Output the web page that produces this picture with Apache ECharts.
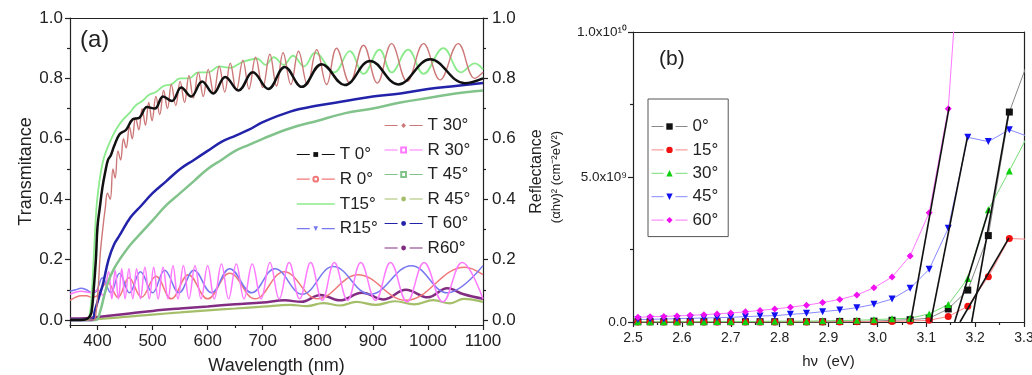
<!DOCTYPE html>
<html><head><meta charset="utf-8">
<script src="https://cdn.jsdelivr.net/npm/echarts/dist/echarts.min.js"></script>
<style>html,body{margin:0;padding:0;background:#fff}#c{width:1032px;height:375px}</style>
</head><body><div id="c"></div>
<script>
// ---------- Panel (a): wavelength (nm) / value pairs ----------
const wlT0 = [350,370,380,385,389,393,397,400,404,409,414,419,424,430,440,452,464,476,490,504,519,535,552,570,590,610,632,656,682,710,740,771,807,849,895,946,1004,1067,1100];
const T0   = [0,0,0.003,0.01,0.025,0.1,0.2,0.31,0.37,0.44,0.49,0.53,0.545,0.575,0.615,0.63,0.665,0.67,0.705,0.70,0.74,0.725,0.77,0.74,0.79,0.75,0.805,0.76,0.82,0.765,0.838,0.772,0.847,0.778,0.858,0.78,0.863,0.784,0.80];

const wlT15 = [350,382,386,390,394,398,402,407,412,418,425,435,447,458,469,481,493,506,520,534,550,566,583,601,621,641,664,690,705,720,738,755,775,795,830,858,883,912,934,964,992,1028,1060,1085,1100];
const T15   = [0,0,0.02,0.1,0.24,0.37,0.44,0.5,0.54,0.57,0.60,0.635,0.665,0.685,0.71,0.725,0.745,0.755,0.775,0.78,0.80,0.80,0.82,0.82,0.84,0.835,0.855,0.865,0.845,0.87,0.845,0.875,0.84,0.885,0.82,0.89,0.815,0.895,0.82,0.895,0.815,0.90,0.82,0.85,0.83];

const wlT30 = [350,393,397,401,405,410,414,418,423,428,432,437,442,447,452,458,463,469,475,481,487,493,499,506,513,520,527,534,542,550,558,566,574,583,592,601,611,621,631,641,652,664,675,687,700,713,725,737,751,765,781,798,816,834,858,883,908,934,962,992,1022,1055,1085,1100];
const T30   = [0,0,0.02,0.1,0.22,0.31,0.37,0.42,0.40,0.50,0.47,0.56,0.53,0.60,0.57,0.64,0.60,0.67,0.63,0.70,0.645,0.72,0.66,0.74,0.68,0.76,0.70,0.78,0.71,0.79,0.72,0.81,0.735,0.82,0.74,0.83,0.75,0.84,0.755,0.85,0.76,0.86,0.765,0.87,0.77,0.88,0.775,0.885,0.78,0.89,0.78,0.895,0.78,0.90,0.785,0.91,0.785,0.915,0.79,0.915,0.795,0.915,0.80,0.82];

const wlT45 = [350,397,405,412,420,430,440,460,480,500,525,550,575,600,625,650,675,700,750,800,850,900,950,1000,1050,1100];
const T45   = [0,0,0.03,0.08,0.13,0.17,0.20,0.25,0.29,0.33,0.38,0.42,0.46,0.50,0.53,0.56,0.58,0.60,0.635,0.66,0.685,0.70,0.72,0.735,0.75,0.76];

const wlT60 = [350,390,395,400,405,410,420,430,440,460,480,500,525,550,575,600,625,650,675,700,750,800,850,900,950,1000,1050,1100];
const T60   = [0,0,0.03,0.06,0.09,0.12,0.2,0.25,0.28,0.34,0.38,0.42,0.46,0.50,0.53,0.56,0.59,0.61,0.63,0.655,0.69,0.71,0.725,0.74,0.75,0.765,0.775,0.785];

const wlR0 = [350,360,370,380,390,399,418,437,457,480,506,534,565,600,640,686,739,800,873,960,1067,1100];
const R0   = [0.065,0.075,0.08,0.08,0.075,0.08,0.125,0.075,0.14,0.075,0.145,0.07,0.15,0.07,0.155,0.07,0.16,0.07,0.15,0.065,0.175,0.15];

const wlR15 = [350,360,370,380,390,398,409,424,440,458,478,500,522,548,575,607,640,680,722,772,828,895,970,1035,1100];
const R15   = [0.095,0.10,0.105,0.10,0.09,0.095,0.14,0.09,0.155,0.09,0.16,0.09,0.165,0.09,0.165,0.09,0.17,0.09,0.17,0.085,0.177,0.085,0.18,0.09,0.18];

const wlR30 = [350,370,390,400,410,420,426,432,438,444,450,457,464,471,478,486,494,502,510,519,528,537,546,556,566,577,588,600,612,625,638,652,666,681,697,713,730,748,767,787,808,830,854,878,905,932,962,993,1027,1062,1100];
const R30   = [0.085,0.095,0.09,0.10,0.08,0.16,0.07,0.165,0.07,0.17,0.07,0.17,0.07,0.17,0.07,0.175,0.07,0.175,0.07,0.175,0.07,0.18,0.07,0.18,0.07,0.18,0.07,0.18,0.07,0.185,0.07,0.185,0.07,0.185,0.07,0.19,0.07,0.19,0.07,0.19,0.065,0.19,0.065,0.19,0.065,0.19,0.06,0.19,0.06,0.19,0.07];

const wlR45 = [350,390,450,500,550,600,650,700,750,780,810,840,870,905,940,975,1010,1040,1065,1100];
const R45   = [0.0,0.002,0.01,0.018,0.025,0.032,0.038,0.044,0.05,0.046,0.056,0.048,0.06,0.05,0.062,0.052,0.066,0.055,0.07,0.06];

const wlR60 = [350,380,400,450,500,550,600,650,700,740,770,805,840,880,920,960,1000,1035,1065,1100];
const R60   = [0.005,0.006,0.01,0.02,0.03,0.038,0.045,0.052,0.058,0.065,0.06,0.083,0.065,0.09,0.068,0.1,0.075,0.105,0.085,0.07];

// ---------- Panel (b): photon energy (eV) / (alpha h nu)^2 in units of 1e9 ----------
const E   = [2.51,2.535,2.563,2.59,2.617,2.645,2.672,2.70,2.73,2.76,2.79,2.822,2.855,2.888,2.923,2.958,2.993,3.03,3.067,3.106,3.145,3.185,3.227,3.27,3.313];
const b0  = [0.01,0.01,0.01,0.01,0.01,0.01,0.01,0.01,0.01,0.01,0.01,0.01,0.01,0.01,0.02,0.02,0.03,0.06,0.08,0.13,0.45,1.10,2.98,7.24,9.2];
const b15 = [0,0,0,0,0,0,0,0,0,0,0,0,0,0,0,0.01,0.01,0.02,0.03,0.06,0.19,0.54,1.56,2.88,2.85];
const b30 = [0.01,0.01,0.01,0.01,0.01,0.01,0.02,0.02,0.02,0.02,0.03,0.03,0.03,0.04,0.05,0.06,0.08,0.11,0.13,0.28,0.6,1.5,3.87,5.21,6.6];
const b45 = [0.085,0.092,0.103,0.115,0.126,0.138,0.149,0.161,0.184,0.207,0.218,0.264,0.299,0.356,0.414,0.494,0.609,0.793,1.16,1.82,3.23,6.37,6.22,6.63,6.37];
const b60 = [0.16,0.18,0.19,0.21,0.23,0.25,0.28,0.31,0.35,0.40,0.45,0.51,0.58,0.67,0.78,0.93,1.18,1.55,2.28,3.77,7.35,17];
const fitLines = [
  [[3.068,0],[3.147,7.42]],
  [[3.109,0],[3.184,6.36]],
  [[3.158,0],[3.229,3.92]],
  [[3.193,0],[3.269,7.25]],
  [[3.169,0],[3.269,2.89]]
];

// tick label values
const xTicksA = [400,500,600,700,800,900,1000,1100];
const xMinorA = [350,450,550,650,750,850,950,1050];
const yTicksA = [0,0.2,0.4,0.6,0.8,1.0];
const yMinorA = [0.1,0.3,0.5,0.7,0.9];

function pairs(xs, ys){ return ys.map((y,i)=>[xs[i], y]); }

const FONT = 'Liberation Sans, Arial, sans-serif';
const TXT = '#222';
const axisLineStyle = {color:'#222', width:1.2};

function tAxisX(extra){ return Object.assign({type:'value', gridIndex:0, min:350, max:1100, splitLine:{show:false}}, extra); }
function tAxisY(extra){ return Object.assign({type:'value', gridIndex:0, min:-0.0166, max:1, splitLine:{show:false}}, extra); }

const xAxis = [
  tAxisX({position:'bottom', axisLine:{show:true, onZero:false, lineStyle:axisLineStyle},
    axisTick:{show:true, inside:false, length:5, lineStyle:axisLineStyle, customValues:xTicksA},
    axisLabel:{show:true, customValues:xTicksA, fontSize:17, color:TXT, fontFamily:FONT, margin:8, formatter:v=>String(v)},
    name:'Wavelength (nm)', nameLocation:'middle', nameGap:32, nameTextStyle:{fontSize:18, color:TXT, fontFamily:FONT}}),
  tAxisX({position:'bottom', axisLine:{show:false, onZero:false}, axisTick:{show:true, inside:false, length:3, lineStyle:axisLineStyle, customValues:xMinorA}, axisLabel:{show:false}}),
  tAxisX({position:'top', axisLine:{show:true, onZero:false, lineStyle:axisLineStyle}, axisTick:{show:false}, axisLabel:{show:false}}),
  {type:'value', gridIndex:1, position:'bottom', min:2.5, max:3.3, interval:0.1, splitLine:{show:false},
    axisLine:{show:true, onZero:false, lineStyle:axisLineStyle},
    axisTick:{show:true, inside:false, length:5, lineStyle:axisLineStyle},
    minorTick:{show:true, splitNumber:2, length:3, lineStyle:axisLineStyle},
    axisLabel:{fontSize:14, color:TXT, fontFamily:FONT, margin:9, formatter:v=>v.toFixed(1), showMaxLabel:true},
    name:'h\u03bd  (eV)', nameLocation:'middle', nameGap:32, nameTextStyle:{fontSize:15, color:TXT, fontFamily:FONT}},
  {type:'value', gridIndex:1, position:'top', min:2.5, max:3.3, splitLine:{show:false}, axisLine:{show:true, onZero:false, lineStyle:axisLineStyle}, axisTick:{show:false}, axisLabel:{show:false}}
];

const yAxis = [
  tAxisY({position:'left', axisLine:{show:true, onZero:false, lineStyle:axisLineStyle},
    axisTick:{show:true, inside:false, length:5, lineStyle:axisLineStyle, customValues:yTicksA},
    axisLabel:{customValues:yTicksA, fontSize:17, color:TXT, fontFamily:FONT, margin:7, formatter:v=>v.toFixed(1)},
    name:'Transmitance', nameLocation:'middle', nameGap:33, nameRotate:90, nameTextStyle:{fontSize:18, color:TXT, fontFamily:FONT}}),
  tAxisY({position:'left', axisLine:{show:false, onZero:false}, axisTick:{show:true, inside:false, length:3, lineStyle:axisLineStyle, customValues:yMinorA}, axisLabel:{show:false}}),
  tAxisY({position:'right', axisLine:{show:true, onZero:false, lineStyle:axisLineStyle},
    axisTick:{show:true, inside:false, length:5, lineStyle:axisLineStyle, customValues:yTicksA},
    axisLabel:{customValues:yTicksA, fontSize:17, color:TXT, fontFamily:FONT, margin:9, formatter:v=>v.toFixed(1)},
    name:'Reflectance', nameLocation:'middle', nameGap:46, nameRotate:90, nameTextStyle:{fontSize:16, color:TXT, fontFamily:FONT}}),
  tAxisY({position:'right', axisLine:{show:false, onZero:false}, axisTick:{show:true, inside:false, length:3, lineStyle:axisLineStyle, customValues:yMinorA}, axisLabel:{show:false}}),
  {type:'value', gridIndex:1, position:'left', min:0, max:10, interval:5, splitLine:{show:false},
    axisLine:{show:true, onZero:false, lineStyle:axisLineStyle},
    axisTick:{show:true, inside:false, length:5, lineStyle:axisLineStyle},
    minorTick:{show:true, splitNumber:2, length:3, lineStyle:axisLineStyle},
    axisLabel:{fontSize:13.5, color:TXT, fontFamily:FONT, margin:6, formatter:v=> v===0?'0.0':(v===5?'5.0x10\u2079':'1.0x10\u00b9\u2070')},
    name:'(\u03b1h\u03bd)\u00b2 (cm\u207b\u00b2eV\u00b2)', nameLocation:'middle', nameGap:70, nameRotate:90, nameTextStyle:{fontSize:13, color:TXT, fontFamily:FONT}},
  {type:'value', gridIndex:1, position:'right', min:0, max:10, splitLine:{show:false}, axisLine:{show:true, onZero:false, lineStyle:axisLineStyle}, axisTick:{show:false}, axisLabel:{show:false}}
];

function aSeries(name, xs, ys, color, symbol, width, yIdx){
  return {name, type:'line', xAxisIndex:0, yAxisIndex:yIdx, data:pairs(xs, ys), smooth:0.4,
    showSymbol:false, symbol, symbolSize:6, clip:true,
    itemStyle:{color, borderColor:color}, lineStyle:{color, width}, emphasis:{disabled:true}, z:2};
}
function bSeries(name, ys, color, lineColor, symbol){
  return {name, type:'line', xAxisIndex:3, yAxisIndex:4, data:pairs(E, ys), symbol, symbolSize:7, showSymbol:true, clip:true,
    itemStyle:{color}, lineStyle:{color:lineColor, width:1}, emphasis:{disabled:true}, z:3};
}

const series = [
  aSeries('R 45\u00b0', wlR45, R45, 'rgb(165,190,105)', 'circle', 2.2, 2),
  aSeries('R60\u00b0', wlR60, R60, 'rgb(130,45,130)', 'circle', 2.5, 2),
  aSeries('R 0\u00b0', wlR0, R0, 'rgb(240,120,120)', 'emptyCircle', 1.5, 2),
  aSeries('R15\u00b0', wlR15, R15, 'rgb(120,120,240)', 'path://M0,0L10,0L5,9Z', 1.5, 2),
  aSeries('R 30\u00b0', wlR30, R30, 'rgb(255,120,255)', 'emptyRect', 1.5, 2),
  aSeries('T 45\u00b0', wlT45, T45, 'rgb(130,195,140)', 'emptyRect', 2.5, 0),
  aSeries('T 60\u00b0', wlT60, T60, 'rgb(35,35,170)', 'circle', 2.5, 0),
  aSeries('T15\u00b0', wlT15, T15, 'rgb(140,235,140)', 'emptyCircle', 1.8, 0),
  aSeries('T 30\u00b0', wlT30, T30, 'rgb(205,120,120)', 'diamond', 1.4, 0),
  aSeries('T 0\u00b0', wlT0, T0, '#111', 'rect', 2.5, 0),
  bSeries('0\u00b0', b0, '#111', '#888', 'rect'),
  bSeries('15\u00b0', b15, '#f01010', '#f88', 'circle'),
  bSeries('30\u00b0', b30, '#10d010', '#7d7', 'triangle'),
  bSeries('45\u00b0', b45, '#1010f0', '#88f', 'path://M0,0L10,0L5,9Z'),
  bSeries('60\u00b0', b60, '#f010f0', '#f7f', 'diamond')
];
fitLines.forEach((seg,i)=>series.push({name:'fit'+i, type:'line', xAxisIndex:3, yAxisIndex:4, data:seg, symbol:'none', clip:true,
  lineStyle:{color:'#111', width:1.6}, emphasis:{disabled:true}, z:4}));

const legText = {fontSize:17, color:TXT, fontFamily:FONT, lineHeight:17};
const dash = {width:1.2, type:[13,12]};
const option = {
  animation:false,
  backgroundColor:'#fff',
  grid:[{left:70, top:18, width:413, height:307, outerBoundsMode:'none', containLabel:false},
        {left:633, top:32, width:391, height:290, outerBoundsMode:'none', containLabel:false}],
  xAxis, yAxis, series,
  legend:[
    {orient:'vertical', left:296, top:146, itemWidth:38, itemHeight:6, itemGap:7.7, padding:0, textStyle:legText,
      lineStyle:dash,
      data:['T 0\u00b0','R 0\u00b0',{name:'T15\u00b0', itemStyle:{opacity:0}, lineStyle:{type:'solid', width:1.5}},'R15\u00b0']},
    {orient:'vertical', left:384, top:117, itemWidth:38, itemHeight:6, itemGap:7.5, padding:0, textStyle:legText,
      lineStyle:dash,
      data:['T 30\u00b0','R 30\u00b0','T 45\u00b0','R 45\u00b0','T 60\u00b0','R60\u00b0']},
    {orient:'vertical', left:648, top:99, itemWidth:36, itemHeight:8, itemGap:6.4, padding:[19,10,8,3],
      borderColor:'#555', borderWidth:1, textStyle:legText, lineStyle:{width:1, type:[12,12]},
      data:['0\u00b0','15\u00b0','30\u00b0','45\u00b0','60\u00b0']}
  ],
  graphic:[
    {type:'text', left:80, top:28, style:{text:'(a)', fontSize:24, fill:TXT, fontFamily:FONT}},
    {type:'text', left:659, top:49, style:{text:'(b)', fontSize:21, fill:TXT, fontFamily:FONT}}
  ]
};
const chart = echarts.init(document.getElementById('c'));
chart.setOption(option);
</script>
</body></html>
